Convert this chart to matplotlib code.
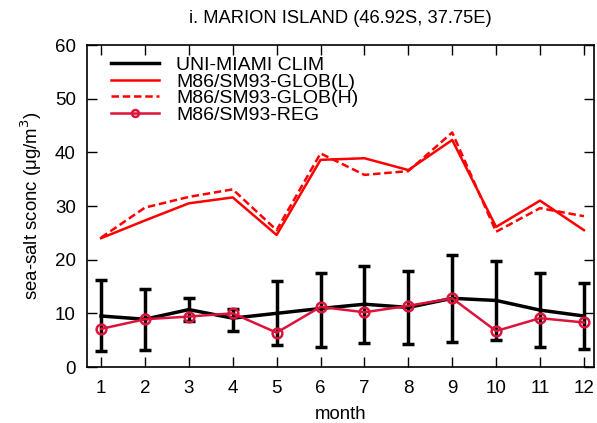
import numpy as np
import matplotlib.pyplot as plt
from matplotlib.lines import Line2D

plt.rcParams['font.family'] = ['Liberation Sans', 'DejaVu Sans']

months = np.arange(1, 13)
clim = [9.5, 8.9, 10.7, 9.1, 10.0, 10.9, 11.7, 11.1, 12.8, 12.4, 10.6, 9.5]
clim_hi = [16.2, 14.5, 12.8, 10.9, 16.0, 17.5, 18.9, 17.9, 20.9, 19.7, 17.6, 15.6]
clim_lo = [3.0, 3.1, 8.5, 6.8, 4.1, 3.8, 4.4, 4.3, 4.6, 5.0, 3.8, 3.4]
glob_l = [24.0, 27.3, 30.5, 31.6, 24.6, 38.6, 38.9, 36.7, 42.3, 26.1, 31.0, 25.5]
glob_h = [24.1, 29.7, 31.7, 33.1, 25.5, 39.8, 35.8, 36.5, 43.7, 25.2, 29.6, 28.1]
reg = [7.1, 8.9, 9.4, 10.0, 6.4, 11.2, 10.2, 11.4, 12.8, 6.7, 9.1, 8.3]

fig = plt.figure(figsize=(5.97, 4.23), dpi=100)
ax = fig.add_axes([87/597, 1 - 367/423, (594 - 87)/597, (367 - 45)/423])

clim = np.array(clim)
yerr = [clim - np.array(clim_lo), np.array(clim_hi) - clim]
ax.errorbar(months, clim, yerr=yerr, color='black', lw=2.5, elinewidth=2.5,
            capsize=4, capthick=2.5, zorder=2)
ax.plot(months, glob_l, color='#ff0000', lw=1.8)
ax.plot(months, glob_h, color='#ff0000', lw=1.8, ls=(0, (3, 1.5)))
ax.plot(months, reg, color='#dc143c', lw=1.8, marker='o', ms=7, mfc='none',
        mew=1.8, zorder=3)

ax.set_xlim(0.68, 12.23)
ax.set_ylim(0, 60)
ax.set_xticks(months)
ax.set_yticks(range(0, 61, 10))
ax.tick_params(direction='in', top=True, right=True, length=7, labelsize=13.5, width=1)
ax.tick_params(axis='x', pad=9)
ax.tick_params(axis='y', pad=8)
for s in ax.spines.values():
    s.set_linewidth(1.2)
ax.set_xlabel('month', fontsize=13.4, labelpad=7)
ax.set_ylabel('sea-salt sconc (\u03bcg/m$^3$)', fontsize=13.4, labelpad=8)
ax.set_title('i. MARION ISLAND (46.92S, 37.75E)', fontsize=13.2, pad=16)

handles = [
    Line2D([], [], color='black', lw=2.5),
    Line2D([], [], color='#ff0000', lw=1.8),
    Line2D([], [], color='#ff0000', lw=1.8, ls=(0, (3, 1.5))),
    Line2D([], [], color='#dc143c', lw=1.8, marker='o', ms=5, mfc='none', mew=1.8),
]
labels = ['UNI-MIAMI CLIM', 'M86/SM93-GLOB(L)', 'M86/SM93-GLOB(H)', 'M86/SM93-REG']
ax.legend(handles, labels, loc='upper left', bbox_to_anchor=(0.022, 1.004),
          frameon=False, fontsize=14, handlelength=2.5, labelspacing=-0.05,
          borderaxespad=0.2, borderpad=0.45, handletextpad=0.85)

fig.savefig('out.png', dpi=100)
